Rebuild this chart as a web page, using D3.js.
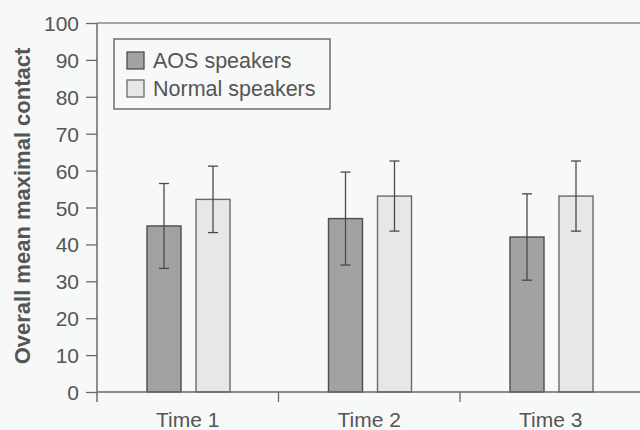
<!DOCTYPE html>
<html>
<head>
<meta charset="utf-8">
<script src="https://cdn.jsdelivr.net/npm/d3@7"></script>
<style>
  html, body { margin: 0; padding: 0; background: #f7f8f8; }
  svg { display: block; font-family: "Liberation Sans", Arial, sans-serif; }
</style>
</head>
<body>
<div id="chart"></div>
<script>
// Data
const times = ["Time 1", "Time 2", "Time 3"];
const groups = ["AOS speakers", "Normal speakers"];
const aosMean = [45, 47, 42];
const aosErr = [11.5, 12.6, 11.7];
const normalMean = [52.2, 53.1, 53.1];
const normalErr = [9, 9.5, 9.5];
const yTicks = [0, 10, 20, 30, 40, 50, 60, 70, 80, 90, 100];

(() => {
  const W = 640, H = 430;
  const margin = { top: 23, right: -1.5, bottom: 38, left: 97 };
  const width = W - margin.left - margin.right;
  const height = H - margin.top - margin.bottom;

  const svg = d3
    .select("#chart")
    .append("svg")
    .attr("width", W)
    .attr("height", H);

  svg.append("rect").attr("width", W).attr("height", H).attr("fill", "#f7f8f8");

  const g = svg.append("g").attr("transform", `translate(${margin.left},${margin.top})`);

  const x = d3.scaleBand().domain(times).range([0, width]).padding(0);
  const xSub = d3
    .scaleBand()
    .domain(groups)
    .range([50, 133])
    .paddingInner(15 / 49)
    .paddingOuter(0);
  const y = d3.scaleLinear().domain([0, 100]).range([height, 0]);

  const color = d3.scaleOrdinal().domain(groups).range(["#a2a2a2", "#e5e7e9"]);
  const stroke = d3.scaleOrdinal().domain(groups).range(["#4e4e4e", "#6a6a6a"]);

  const rows = times.map((t, i) => ({
    time: t,
    vals: [
      { key: groups[0], mean: aosMean[i], err: aosErr[i] },
      { key: groups[1], mean: normalMean[i], err: normalErr[i] },
    ],
  }));

  // top frame line
  g.append("line")
    .attr("x1", 0).attr("x2", width)
    .attr("y1", 0).attr("y2", 0)
    .attr("stroke", "#8a8a8a").attr("stroke-width", 1.5);

  // bars
  const bg = g.selectAll(".grp")
    .data(rows)
    .join("g")
    .attr("class", "grp")
    .attr("transform", (d) => `translate(${x(d.time)},0)`);

  bg.selectAll("rect")
    .data((d) => d.vals)
    .join("rect")
    .attr("x", (d) => xSub(d.key))
    .attr("y", (d) => y(d.mean))
    .attr("width", xSub.bandwidth())
    .attr("height", (d) => height - y(d.mean))
    .attr("fill", (d) => color(d.key))
    .attr("stroke", (d) => stroke(d.key))
    .attr("stroke-width", 1.4);

  // error bars
  const eb = bg.selectAll(".err")
    .data((d) => d.vals)
    .join("g")
    .attr("class", "err")
    .attr("stroke", "#4a4a4a")
    .attr("stroke-width", 1.3);

  const cx = (d) => xSub(d.key) + xSub.bandwidth() / 2;
  eb.append("line")
    .attr("x1", cx).attr("x2", cx)
    .attr("y1", (d) => y(d.mean + d.err))
    .attr("y2", (d) => y(d.mean - d.err));
  eb.append("line")
    .attr("x1", (d) => cx(d) - 5).attr("x2", (d) => cx(d) + 5)
    .attr("y1", (d) => y(d.mean + d.err)).attr("y2", (d) => y(d.mean + d.err));
  eb.append("line")
    .attr("x1", (d) => cx(d) - 5).attr("x2", (d) => cx(d) + 5)
    .attr("y1", (d) => y(d.mean - d.err)).attr("y2", (d) => y(d.mean - d.err));

  // y axis
  const yAxis = g.append("g")
    .call(d3.axisLeft(y).tickValues(yTicks).tickSize(11).tickPadding(7))
    .call((a) => a.select(".domain").attr("stroke", "#6a6a6a").attr("stroke-width", 1.5)
      .attr("d", `M0,${height + 10}V0`));
  yAxis.selectAll(".tick line").attr("stroke", "#6a6a6a").attr("stroke-width", 1.3);
  yAxis.selectAll(".tick text")
    .attr("fill", "#555")
    .style("font-size", "21px")
    .attr("dy", "0.36em");

  // x axis
  const xAxis = g.append("g")
    .attr("transform", `translate(0,${height})`)
    .call(d3.axisBottom(x).tickSize(0).tickPadding(20))
    .call((a) => a.select(".domain").attr("stroke", "#6a6a6a").attr("stroke-width", 1.5)
      .attr("d", `M0,0H${width}`));
  xAxis.selectAll(".tick text")
    .attr("fill", "#555")
    .style("font-size", "21px");
  // category boundary ticks
  xAxis.selectAll(".bound")
    .data(times.slice(1))
    .join("line")
    .attr("class", "bound")
    .attr("x1", (d) => x(d)).attr("x2", (d) => x(d))
    .attr("y1", 0).attr("y2", 10)
    .attr("stroke", "#6a6a6a").attr("stroke-width", 1.3);

  // y label
  svg.append("text")
    .attr("transform", "rotate(-90)")
    .attr("x", -206)
    .attr("y", 30)
    .attr("text-anchor", "middle")
    .attr("fill", "#555")
    .style("font-size", "22px")
    .style("font-weight", "bold")
    .text("Overall mean maximal contact");

  // legend
  const legend = svg.append("g").attr("transform", "translate(114,39)");
  legend.append("rect")
    .attr("width", 216).attr("height", 70)
    .attr("fill", "none").attr("stroke", "#666").attr("stroke-width", 1.4);

  groups.forEach((key, i) => {
    const item = legend.append("g").attr("transform", `translate(13,${13 + i * 28})`);
    item.append("rect")
      .attr("width", 17).attr("height", 17)
      .attr("fill", color(key))
      .attr("stroke", stroke(key)).attr("stroke-width", 1.3);
    item.append("text")
      .attr("x", 26).attr("y", 16)
      .attr("fill", "#555")
      .style("font-size", "21.5px")
      .text(key);
  });
})();
</script>
</body>
</html>
